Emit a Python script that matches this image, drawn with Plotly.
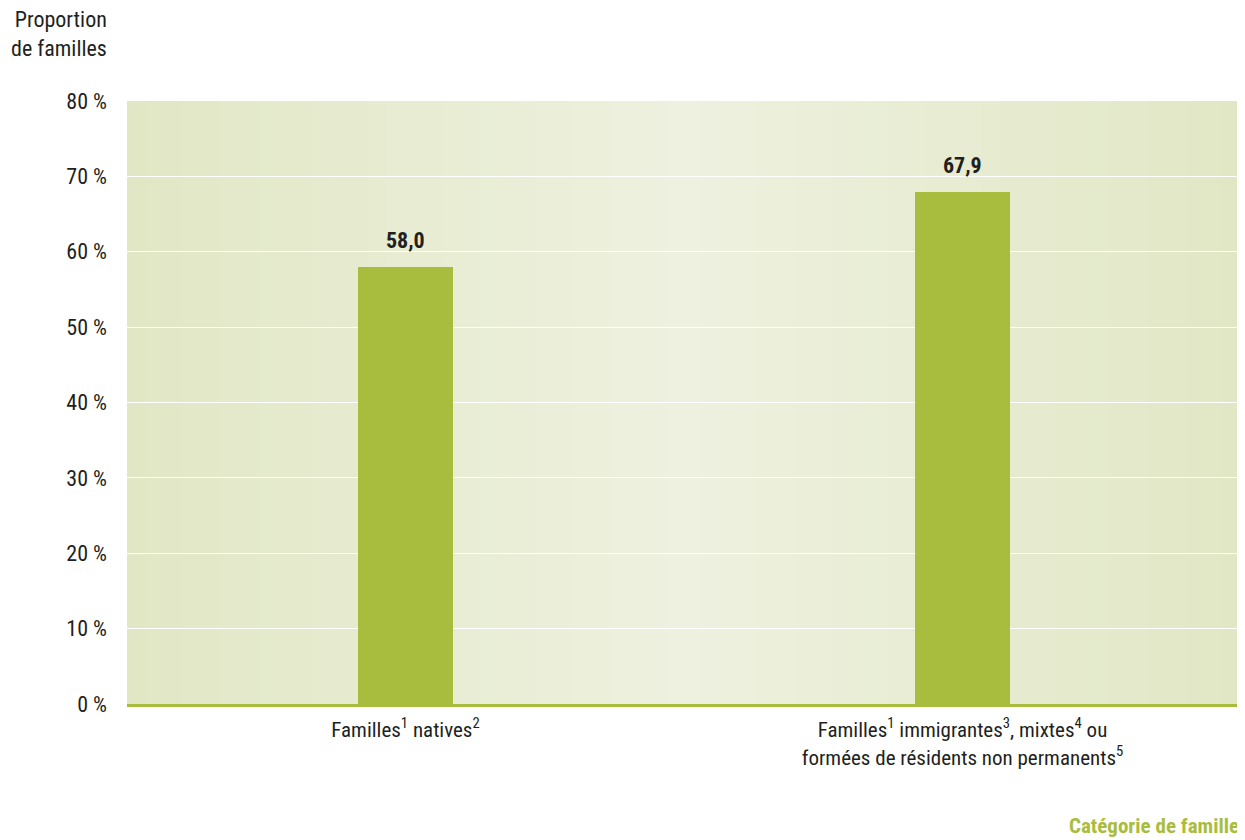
import plotly.graph_objects as go

categories = ["Familles<sup>1</sup> natives<sup>2</sup>",
              "Familles<sup>1</sup> immigrantes<sup>3</sup>, mixtes<sup>4</sup> ou<br>formées de résidents non permanents<sup>5</sup>"]
values = [58.0, 67.9]
value_labels = ["58,0", "67,9"]
y_ticks = [0, 10, 20, 30, 40, 50, 60, 70, 80]
y_tick_labels = ["0 %", "10 %", "20 %", "30 %", "40 %", "50 %", "60 %", "70 %", "80 %"]

FONT = "Liberation Sans Narrow, Arial Narrow, Roboto Condensed, Roboto, sans-serif"
BAR = "#a8bd3e"

fig = go.Figure()
fig.add_trace(go.Bar(
    x=categories, y=values,
    marker=dict(color=BAR, line=dict(width=0)),
    width=0.172,
))

# horizontal gradient background (edges darker, centre lighter)
n = 60
c_edge = (0xe1, 0xe7, 0xc5)
c_mid = (0xee, 0xf1, 0xdf)
shapes = []
for i in range(n):
    t = (i + 0.5) / n
    f = 1 - abs(t - 0.5) * 2
    col = tuple(int(round(c_edge[k] + (c_mid[k] - c_edge[k]) * f)) for k in range(3))
    shapes.append(dict(type="rect", xref="paper", yref="paper", x0=i / n, x1=(i + 1) / n + 0.002,
                       y0=0, y1=1, fillcolor="rgb(%d,%d,%d)" % col, line=dict(width=0), layer="below"))

annotations = [
    dict(x=c, y=v, text="<b>%s</b>" % lab, xref="x", yref="y", showarrow=False,
         xanchor="center", yanchor="bottom", yshift=12,
         font=dict(size=22, color="#231f20"))
    for c, v, lab in zip(categories, values, value_labels)
]
annotations += [
    dict(text="Proportion<br>de familles", xref="paper", yref="paper", x=-0.016, y=1.0,
         xanchor="right", yanchor="bottom", yshift=38, showarrow=False, align="right",
         font=dict(size=22)),
    dict(text="<b>Catégorie de famille</b>", xref="paper", yref="paper", x=1.0, y=0,
         xanchor="right", yanchor="top", yshift=-108, showarrow=False,
         font=dict(size=21, color=BAR)),
]

fig.update_layout(
    width=1237, height=832,
    margin=dict(l=119, r=4, t=93, b=136),
    paper_bgcolor="white", plot_bgcolor="rgba(0,0,0,0)",
    shapes=shapes, showlegend=False, bargap=0,
    font=dict(family=FONT, size=20, color="#231f20"),
    xaxis=dict(showgrid=False, showline=True, linecolor=BAR, linewidth=3,
               ticks="", tickfont=dict(size=21), ticklabelstandoff=5),
    yaxis=dict(range=[0, 80], tickmode="array", tickvals=y_ticks, ticktext=y_tick_labels,
               showgrid=True, gridcolor="white", gridwidth=1, zeroline=False, showline=False,
               ticklabelstandoff=19, tickfont=dict(size=22)),
    annotations=annotations,
)

fig.write_html("out.html")
